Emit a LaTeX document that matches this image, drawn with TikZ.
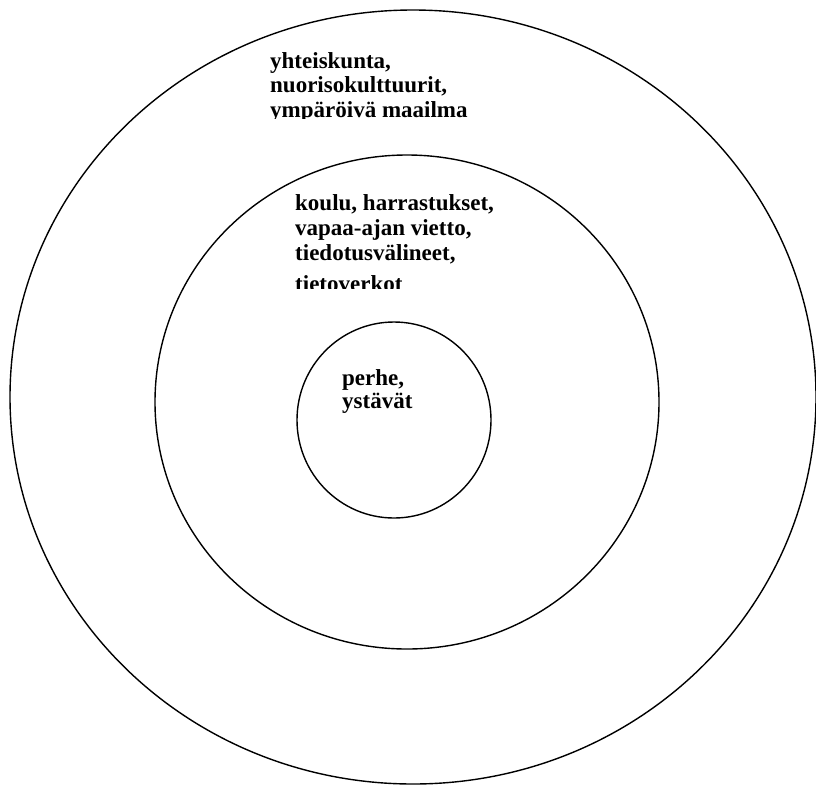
\documentclass[tikz,border=0pt]{standalone}
\usepackage{fontspec}
\setmainfont{Liberation Serif}
\begin{document}
\begin{tikzpicture}[x=1pt,y=-1pt,
  ring/.style={draw=black,line width=1.4pt},
  lbl/.style={anchor=base west,inner sep=0pt,font=\fontsize{23}{24}\selectfont\bfseries}]
\useasboundingbox (0,0) rectangle (816,785);
\draw[ring] (413,397) ellipse [x radius=403pt, y radius=387pt];
\draw[ring] (407,402) ellipse [x radius=252pt, y radius=247pt];
\draw[ring] (394,420) ellipse [x radius=97pt, y radius=98pt];
\begin{scope}
\clip (250,30) rectangle (600,118);
\node[lbl] (o1) at (270,68) {yhteiskunta,};
\node[lbl] (o2) at (270,92) {nuorisokulttuurit,};
\node[lbl] (o3) at (270,117) {ympäröivä maailma};
\end{scope}
\begin{scope}
\clip (250,180) rectangle (600,288);
\node[lbl] (m1) at (295,210) {koulu, harrastukset,};
\node[lbl] (m2) at (295,235) {vapaa-ajan vietto,};
\node[lbl] (m3) at (295,260) {tiedotusvälineet,};
\node[lbl] (m4) at (295,291) {tietoverkot};
\end{scope}
\node[lbl] (i1) at (342,385) {perhe,};
\node[lbl] (i2) at (342,408) {ystävät};
\end{tikzpicture}
\end{document}
